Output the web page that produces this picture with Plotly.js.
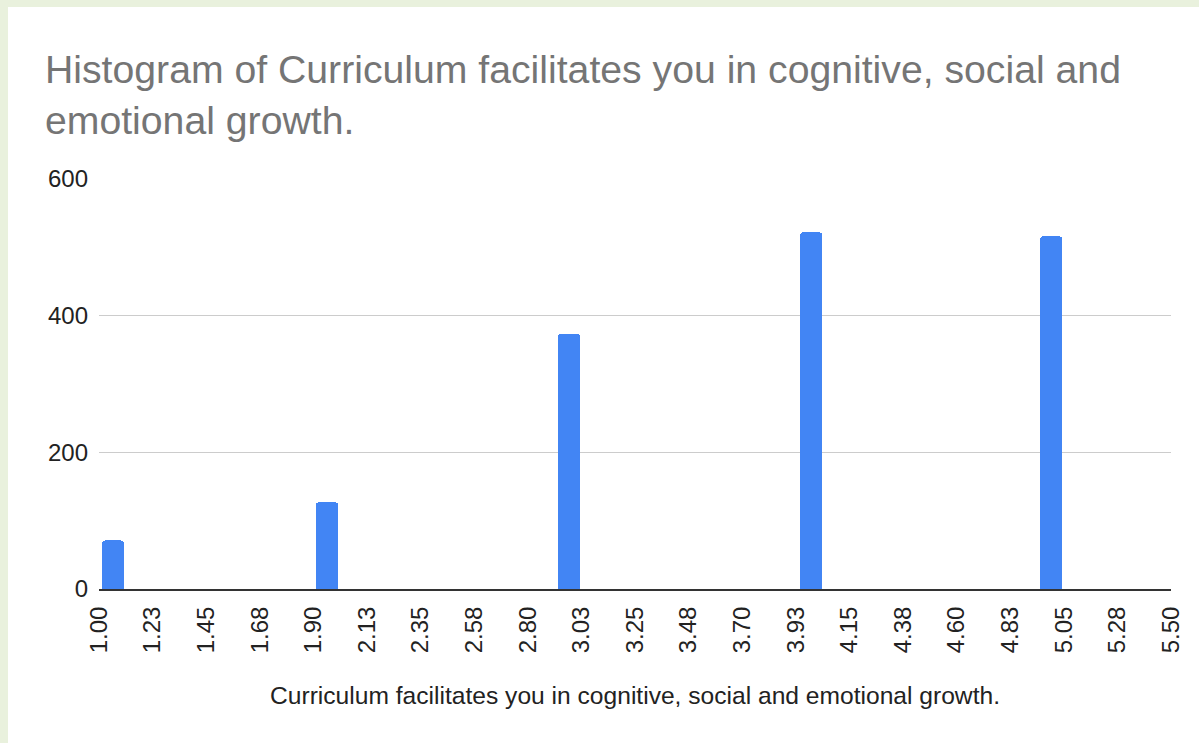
<!DOCTYPE html>
<html>
<head>
<meta charset="utf-8">
<script src="https://cdn.plot.ly/plotly-3.0.1.min.js"></script>
<style>
  html, body { margin: 0; padding: 0; background: #e9f1dd; width: 1199px; height: 743px; overflow: hidden; }
  #chart { position: absolute; left: 8px; top: 7px; width: 1191px; height: 736px; background: #ffffff; }
</style>
</head>
<body>
<div id="chart"></div>
<script>
// Histogram buckets (positions of drawn bars on the value axis) and their counts
const barCenters = [1.059, 1.957, 2.973, 3.989, 4.997];
const counts = [71, 127, 373, 522, 516];
const barWidth = 0.092;

// Bucket edge tick labels
const tickLabels = ['1.00','1.23','1.45','1.68','1.90','2.13','2.35','2.58','2.80','3.03',
                    '3.25','3.48','3.70','3.93','4.15','4.38','4.60','4.83','5.05','5.28','5.50'];
const bucketStart = 1.0;
const bucketSize = 0.225;
const tickVals = tickLabels.map((_, i) => bucketStart + i * bucketSize);

const yTicks = [0, 200, 400, 600];

const chartTitle = 'Histogram of Curriculum facilitates you in cognitive, social and<br>emotional growth.';
const xTitle = 'Curriculum facilitates you in cognitive, social and emotional growth.';

const trace = {
  type: 'bar',
  x: barCenters,
  y: counts,
  width: counts.map(() => barWidth),
  marker: { color: '#4285f4', cornerradius: 3, line: { width: 0 } },
  hoverinfo: 'x+y',
  showlegend: false
};

const layout = {
  width: 1191,
  height: 736,
  paper_bgcolor: '#ffffff',
  plot_bgcolor: '#ffffff',
  margin: { l: 91, r: 28, t: 172, b: 154, pad: 0 },
  font: { family: '"Liberation Sans", Arial, sans-serif', color: '#222222' },
  title: {
    text: chartTitle,
    font: { family: '"Liberation Sans", Arial, sans-serif', size: 39.2, color: '#757575' },
    xref: 'container', yref: 'container',
    x: 37 / 1191, xanchor: 'left',
    y: 1 - 76 / 736, yanchor: 'top'
  },
  xaxis: {
    range: [1.0, 5.5],
    tickmode: 'array',
    tickvals: tickVals,
    ticktext: tickLabels,
    tickangle: -90,
    tickfont: { family: '"Liberation Sans", Arial, sans-serif', size: 24, color: '#222222' },
    ticks: '',
    showgrid: false,
    zeroline: false,
    showline: true,
    linecolor: '#333333',
    linewidth: 2,
    ticklabelstandoff: 6,
    title: {
      text: xTitle,
      font: { family: '"Liberation Sans", Arial, sans-serif', size: 24.6, color: '#222222' },
      standoff: 34
    },
    fixedrange: true
  },
  yaxis: {
    range: [0, 600],
    tickmode: 'array',
    tickvals: yTicks,
    ticktext: yTicks.map(String),
    tickfont: { family: '"Liberation Sans", Arial, sans-serif', size: 24, color: '#222222' },
    ticks: '',
    showgrid: true,
    gridcolor: '#cccccc',
    gridwidth: 1,
    zeroline: false,
    showline: false,
    ticklabelstandoff: 10,
    fixedrange: true
  },
  bargap: 0
};

Plotly.newPlot('chart', [trace], layout, { displayModeBar: false, staticPlot: true });
</script>
</body>
</html>
